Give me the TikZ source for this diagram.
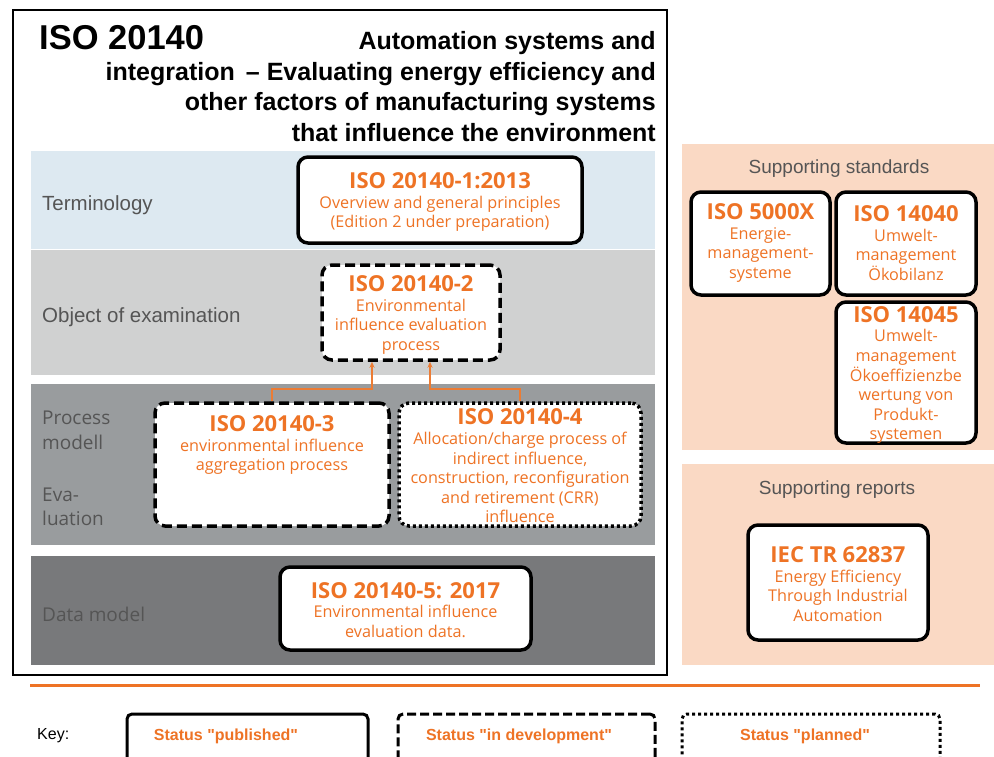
\documentclass[tikz,border=0pt]{standalone}
\usepackage{fontspec}
\setmainfont{Liberation Sans}[Ligatures=TeXOff]
\newfontfamily\boxfont{Open Sans}
\usetikzlibrary{arrows.meta}
\definecolor{isoorange}{RGB}{238,115,37}
\definecolor{arrorange}{RGB}{236,124,52}
\definecolor{bandblue}{RGB}{221,233,241}
\definecolor{bandlight}{RGB}{208,209,209}
\definecolor{bandmid}{RGB}{153,156,158}
\definecolor{banddark}{RGB}{120,121,123}
\definecolor{peach}{RGB}{250,217,196}
\definecolor{labelgray}{RGB}{85,85,85}
\newcommand{\hd}[1]{{\fontsize{22}{22}\selectfont\bfseries #1}}
\begin{document}
\begin{tikzpicture}[x=1pt,y=-1pt,
  pub/.style={draw=black, line width=3.5pt, rounded corners=10pt, fill=white, inner sep=0pt},
  dev/.style={pub, dash pattern=on 10pt off 5pt},
  plan/.style={pub, dash pattern=on 3pt off 3pt},
  keypub/.style={draw=black, line width=3pt, rounded corners=5pt, fill=white, inner sep=0pt},
  keydev/.style={keypub, dash pattern=on 9pt off 4pt},
  keyplan/.style={keypub, dash pattern=on 3pt off 3pt},
  btext/.style={align=center, text=isoorange, font=\boxfont\fontsize{16.2}{19.6}\selectfont, inner sep=0pt},
  bandlabel/.style={anchor=west, text=labelgray, font=\fontsize{20.5}{24}\selectfont, inner sep=0pt},
  bandlabelf/.style={anchor=west, text=labelgray, font=\boxfont\fontsize{19}{24.5}\selectfont, align=left, inner sep=0pt},
  paneltitle/.style={text=labelgray, font=\fontsize{19}{22}\selectfont, inner sep=0pt},
  keytext/.style={text=isoorange, font=\bfseries\fontsize{16}{18}\selectfont, inner sep=0pt},
  arr/.style={draw=arrorange, line width=1.3pt, -{Stealth[length=6pt,width=5pt]}}
]
\useasboundingbox (0,0) rectangle (994,756);
\fill[white] (0,0) rectangle (994,756);
\clip (0,0) rectangle (994,756);

% main frame
\draw[black, line width=1.4pt] (13,10) rectangle (667,675);

% title
\node[anchor=west, inner sep=0pt, font=\bfseries\fontsize{34.5}{36}\selectfont] (title) at (39,38) {ISO 20140};
\node[anchor=north east, align=right, inner sep=0pt, font=\bfseries\fontsize{25}{30.5}\selectfont] (subtitle) at (656,31.5)
  {Automation systems and\\integration \,– Evaluating energy efficiency and\\other factors of manufacturing systems\\that influence the environment};

% bands
\fill[bandblue] (31,151) rectangle (655,249);
\fill[bandlight] (31,250) rectangle (655,375);
\fill[bandmid] (31,384) rectangle (655,545);
\fill[banddark] (31,556) rectangle (655,665);

\node[bandlabel] (lterm) at (42,205) {Terminology};
\node[bandlabel] (lobj) at (42,317) {Object of examination};
\node[bandlabelf] (lproc) at (42,430.5) {Process\\modell};
\node[bandlabelf] (leval) at (42,507) {Eva-\\luation};
\node[bandlabelf] (ldata) at (42,614) {Data model};

% right panels
\fill[peach] (682,144) rectangle (994,450);
\fill[peach] (682,464) rectangle (994,665);
\node[paneltitle] (pstd) at (839,169) {Supporting standards};
\node[paneltitle] (prep) at (837,490) {Supporting reports};

% standard boxes
\node[pub, minimum width=284pt, minimum height=86pt] (s1) at (440,200) {};
\node[btext] (t1) at (440,202) {\hd{ISO 20140-1:2013}\\Overview and general principles\\(Edition 2 under preparation)};

\node[dev, minimum width=178pt, minimum height=95pt] (s2) at (411,312.5) {};
\node[btext] (t2) at (411,315) {\hd{ISO 20140-2}\\Environmental\\influence evaluation\\process};

\node[dev, minimum width=234pt, minimum height=123pt] (s3) at (272,464.5) {};
\node[btext] (t3) at (272,445) {\hd{ISO 20140-3}\\environmental influence\\aggregation process};

\node[plan, minimum width=242pt, minimum height=123pt] (s4) at (520,464.5) {};
\node[btext] (t4) at (520,466) {\hd{ISO 20140-4}\\Allocation/charge process of\\indirect influence,\\construction, reconfiguration\\and retirement (CRR)\\influence};

\node[pub, minimum width=251pt, minimum height=83pt] (s5) at (405.5,608.5) {};
\node[btext] (t5) at (405.5,610) {\hd{ISO 20140-5: 2017}\\Environmental influence\\evaluation data.};

\node[pub, minimum width=139pt, minimum height=103pt] (s6) at (760.5,243.5) {};
\node[btext] (t6) at (760.5,243) {\hd{ISO 5000X}\\Energie-\\management-\\systeme};

\node[pub, minimum width=140pt, minimum height=103pt] (s7) at (906,243.5) {};
\node[btext] (t7) at (906,243) {\hd{ISO 14040}\\Umwelt-\\management\\Ökobilanz};

\node[pub, minimum width=140pt, minimum height=141pt] (s8) at (906,372.5) {};
\node[btext] (t8) at (906,375) {\hd{ISO 14045}\\Umwelt-\\management\\Ökoeffizienzbe\\wertung von\\Produkt-\\systemen};

\node[pub, minimum width=180pt, minimum height=115pt] (s9) at (838,582.5) {};
\node[btext] (t9) at (838,584) {\hd{IEC TR 62837}\\Energy Efficiency\\Through Industrial\\Automation};

% connectors
\coordinate (j1) at (372,389);
\coordinate (j2) at (430,389);
\draw[arr] (s3.north) |- (j1) -- (j1 |- s2.south);
\draw[arr] (s4.north) |- (j2) -- (j2 |- s2.south);

% separator
\draw[isoorange, line width=3pt] (30,685) -- (980,685);

% key
\node[anchor=west, inner sep=0pt, font=\fontsize{16}{19}\selectfont] (key) at (37,736) {Key:};
\node[keypub, minimum width=241pt, minimum height=50pt] (k1) at (247.5,739) {};
\node[keytext] (kt1) at (226,736) {Status "published"};
\node[keydev, minimum width=257pt, minimum height=50pt] (k2) at (526.5,739) {};
\node[keytext] (kt2) at (519,736) {Status "in development"};
\node[keyplan, minimum width=258pt, minimum height=50pt] (k3) at (811,739) {};
\node[keytext] (kt3) at (805,736) {Status "planned"};
\end{tikzpicture}
\end{document}
